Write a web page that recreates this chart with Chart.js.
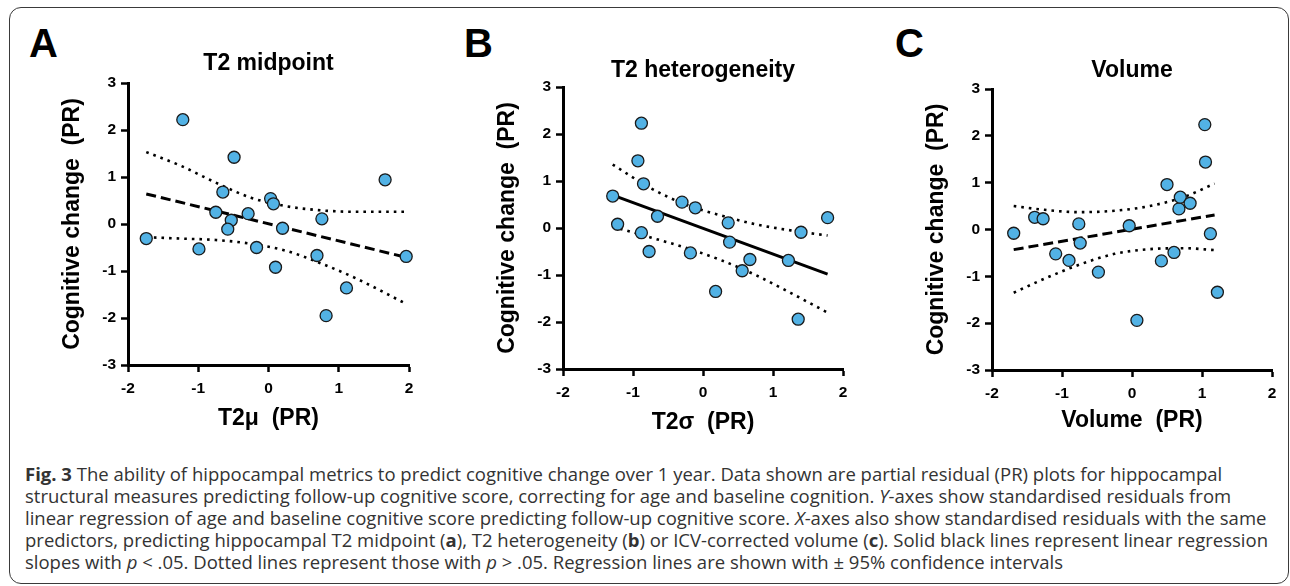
<!DOCTYPE html>
<html>
<head>
<meta charset="utf-8">
<script src="https://cdn.jsdelivr.net/npm/chart.js@4.4.1/dist/chart.umd.min.js"></script>
<style>
html, body { margin: 0; padding: 0; background: #fff; }
body { width: 1290px; height: 586px; position: relative; overflow: hidden; }
.frame { position: absolute; left: 9px; top: 7px; width: 1280px; height: 577px; box-sizing: border-box;
  border: 1.5px solid #3a3a3a; border-radius: 12px; }
canvas { position: absolute; top: 0; }
.letter { position: absolute; top: 23px; font: bold 40px/40px 'Liberation Sans', Arial, sans-serif; color: #000; }
#caption { position: absolute; left: 25px; top: 463px; font-family: 'Open Sans', sans-serif; font-size: 16px;
  line-height: 22px; color: #333; white-space: nowrap; }
#caption .ln { display: inline-block; }
</style>
</head>
<body>
<div class="frame"></div>
<div class="letter" style="left:29px">A</div>
<div class="letter" style="left:464px">B</div>
<div class="letter" style="left:895px">C</div>
<canvas id="cA"></canvas>
<canvas id="cB"></canvas>
<canvas id="cC"></canvas>
<div id="caption">
<span class="ln"><b>Fig. 3</b> The ability of hippocampal metrics to predict cognitive change over 1 year. Data shown are partial residual (PR) plots for hippocampal</span><br>
<span class="ln">structural measures predicting follow-up cognitive score, correcting for age and baseline cognition. <i>Y</i>-axes show standardised residuals from</span><br>
<span class="ln">linear regression of age and baseline cognitive score predicting follow-up cognitive score. <i>X</i>-axes also show standardised residuals with the same</span><br>
<span class="ln">predictors, predicting hippocampal T2 midpoint (<b>a</b>), T2 heterogeneity (<b>b</b>) or ICV-corrected volume (<b>c</b>). Solid black lines represent linear regression</span><br>
<span class="ln">slopes with <i>p</i> &lt; .05. Dotted lines represent those with <i>p</i> &gt; .05. Regression lines are shown with ± 95% confidence intervals</span>
</div>
<script>
// panel A - T2 midpoint
const aX = [-1.74, -1.22, -0.99, -0.75, -0.65, -0.53, -0.58, -0.49, -0.29, -0.17, 0.03, 0.07, 0.10, 0.20, 0.69, 0.76, 0.82, 1.11, 1.66, 1.96];
const aY = [-0.31, 2.22, -0.53, 0.25, 0.68, 0.08, -0.11, 1.42, 0.22, -0.50, 0.54, 0.43, -0.92, -0.09, -0.67, 0.11, -1.95, -1.36, 0.94, -0.69];
const aFitX = [-1.74, 1.96];
const aFitY = [0.64, -0.71];
const aBandX = [-1.74, -1.25, -0.75, -0.25, 0.25, 0.75, 1.25, 1.96];
const aUpper = [1.53, 1.24, 0.88, 0.56, 0.38, 0.29, 0.26, 0.26];
const aLower = [-0.28, -0.31, -0.34, -0.42, -0.57, -0.84, -1.16, -1.70];

// panel B - T2 heterogeneity
const bX = [-1.29, -1.22, -0.93, -0.88, -0.85, -0.88, -0.77, -0.65, -0.30, -0.11, -0.18, 0.18, 0.36, 0.38, 0.56, 0.67, 1.22, 1.36, 1.40, 1.78];
const bY = [0.68, 0.08, 1.43, 2.23, 0.94, -0.10, -0.50, 0.25, 0.55, 0.43, -0.53, -1.35, 0.11, -0.30, -0.91, -0.67, -0.69, -1.94, -0.09, 0.22];
const bFitX = [-1.29, 1.78];
const bFitY = [0.70, -0.98];
const bBandX = [-1.29, -0.75, -0.25, 0.25, 0.75, 1.25, 1.78];
const bUpper = [1.35, 0.85, 0.50, 0.27, 0.08, -0.05, -0.16];
const bLower = [0.03, -0.20, -0.42, -0.68, -1.00, -1.38, -1.80];

// panel C - volume
const cX = [-1.69, -1.39, -1.27, -1.09, -0.90, -0.76, -0.74, -0.48, -0.04, 0.07, 0.42, 0.50, 0.60, 0.67, 0.69, 0.83, 1.04, 1.05, 1.12, 1.22];
const cY = [-0.08, 0.26, 0.23, -0.52, -0.66, 0.12, -0.29, -0.91, 0.08, -1.94, -0.67, 0.96, -0.49, 0.44, 0.69, 0.56, 2.24, 1.44, -0.09, -1.34];
const cFitX = [-1.69, 1.18];
const cFitY = [-0.43, 0.31];
const cBandX = [-1.69, -1.25, -0.75, -0.25, 0.25, 0.75, 1.18];
const cUpper = [0.50, 0.42, 0.37, 0.40, 0.50, 0.70, 0.98];
const cLower = [-1.35, -1.05, -0.75, -0.52, -0.42, -0.40, -0.44];

const titles = ["T2 midpoint", "T2 heterogeneity", "Volume"];
const xTitles = ["T2\u03bc  (PR)", "T2\u03c3  (PR)", "Volume  (PR)"];
const yTitle = "Cognitive change  (PR)";
const xTicks = [-2, -1, 0, 1, 2];
const yTicks = [-3, -2, -1, 0, 1, 2, 3];

Chart.defaults.font.family = "'Liberation Sans', Arial, Helvetica, sans-serif";
Chart.defaults.color = "#000";

const pair = (xs, ys) => xs.map((x, i) => ({ x: x, y: ys[i] }));

// where each plot sits on the page
const panels = [
	{ id: "cA", xs: aX, ys: aY, fx: aFitX, fy: aFitY, dash: [10, 5], bx: aBandX, up: aUpper, lo: aLower,
		axisLeft: 128, span: 281, top: 83, bottom: 365, titleY: 63.5, xTitleY: 419 },
	{ id: "cB", xs: bX, ys: bY, fx: bFitX, fy: bFitY, dash: [], bx: bBandX, up: bUpper, lo: bLower,
		axisLeft: 563, span: 280, top: 87, bottom: 369, titleY: 70.5, xTitleY: 423 },
	{ id: "cC", xs: cX, ys: cY, fx: cFitX, fy: cFitY, dash: [10, 5], bx: cBandX, up: cUpper, lo: cLower,
		axisLeft: 992, span: 280, top: 89, bottom: 370, titleY: 71, xTitleY: 421 },
];

panels.forEach((p, k) => {
	const lead = 110, H = 440, W = lead + p.span + 16;
	const lh = 23 * 1.2;
	const cv = document.getElementById(p.id);
	cv.width = W;
	cv.height = H;
	cv.style.left = (p.axisLeft - lead) + "px";

	const padTop = p.titleY - lh / 2;
	const titleGap = p.top - padTop - lh;
	const padBottom = H - p.xTitleY - lh / 2;
	const xh = H - padBottom - p.bottom;
	const padLeft = lead - 55 - lh / 2;
	const yw = lead - padLeft;

	const tickFont = { size: 15.5, weight: "bold" };
	const titleFont = { size: 23, weight: "bold" };

	new Chart(cv, {
		type: "scatter",
		data: {
			datasets: [
				{
					type: "scatter",
					data: pair(p.xs, p.ys),
					order: 0,
					pointRadius: 6,
					pointBackgroundColor: "#52b2e5",
					pointBorderColor: "#1a1a1a",
					pointBorderWidth: 1.3,
					clip: false,
				},
				{
					type: "line",
					data: pair(p.fx, p.fy),
					order: 1,
					borderColor: "#000",
					borderWidth: 3,
					borderDash: p.dash,
					pointRadius: 0,
					fill: false,
					clip: false,
				},
				{
					type: "line",
					data: pair(p.bx, p.up),
					order: 2,
					borderColor: "#000",
					borderWidth: 2.6,
					borderDash: [2.6, 5],
					pointRadius: 0,
					fill: false,
					cubicInterpolationMode: "monotone",
					clip: false,
				},
				{
					type: "line",
					data: pair(p.bx, p.lo),
					order: 2,
					borderColor: "#000",
					borderWidth: 2.6,
					borderDash: [2.6, 5],
					pointRadius: 0,
					fill: false,
					cubicInterpolationMode: "monotone",
					clip: false,
				},
			],
		},
		options: {
			responsive: false,
			animation: false,
			events: [],
			layout: { padding: { left: padLeft, right: 16, top: padTop, bottom: padBottom } },
			plugins: {
				legend: { display: false },
				tooltip: { enabled: false },
				title: {
					display: true,
					text: titles[k],
					fullSize: false,
					color: "#000",
					font: titleFont,
					padding: { top: 0, bottom: titleGap },
				},
			},
			scales: {
				x: {
					type: "linear",
					min: xTicks[0],
					max: xTicks[xTicks.length - 1],
					afterFit: (s) => { s.height = xh; },
					afterBuildTicks: (s) => { s.ticks = xTicks.map((v) => ({ value: v })); },
					ticks: { color: "#000", font: tickFont, padding: 7, maxRotation: 0 },
					grid: { drawOnChartArea: false, tickLength: 7, tickWidth: 2.5, tickColor: "#000" },
					border: { color: "#000", width: 3 },
					title: { display: true, text: xTitles[k], color: "#000", font: titleFont, padding: 0 },
				},
				y: {
					type: "linear",
					min: yTicks[0],
					max: yTicks[yTicks.length - 1],
					afterFit: (s) => { s.width = yw; },
					afterBuildTicks: (s) => { s.ticks = yTicks.map((v) => ({ value: v })); },
					ticks: { color: "#000", font: tickFont, padding: 5 },
					grid: { drawOnChartArea: false, tickLength: 7, tickWidth: 2.5, tickColor: "#000" },
					border: { color: "#000", width: 3 },
					title: { display: true, text: yTitle, color: "#000", font: titleFont, padding: 0 },
				},
			},
		},
	});
});

// squeeze the caption so its longest line spans the frame like the original
const fitCaption = () => {
	const cap = document.getElementById("caption");
	cap.style.fontSize = "16px";
	const widths = [...cap.querySelectorAll(".ln")].map((e) => e.getBoundingClientRect().width);
	const widest = Math.max(...widths);
	cap.style.fontSize = (16 * 1243 / widest).toFixed(2) + "px";
};
fitCaption();
if (document.fonts && document.fonts.ready) {
	document.fonts.ready.then(fitCaption);
}
</script>
</body>
</html>
